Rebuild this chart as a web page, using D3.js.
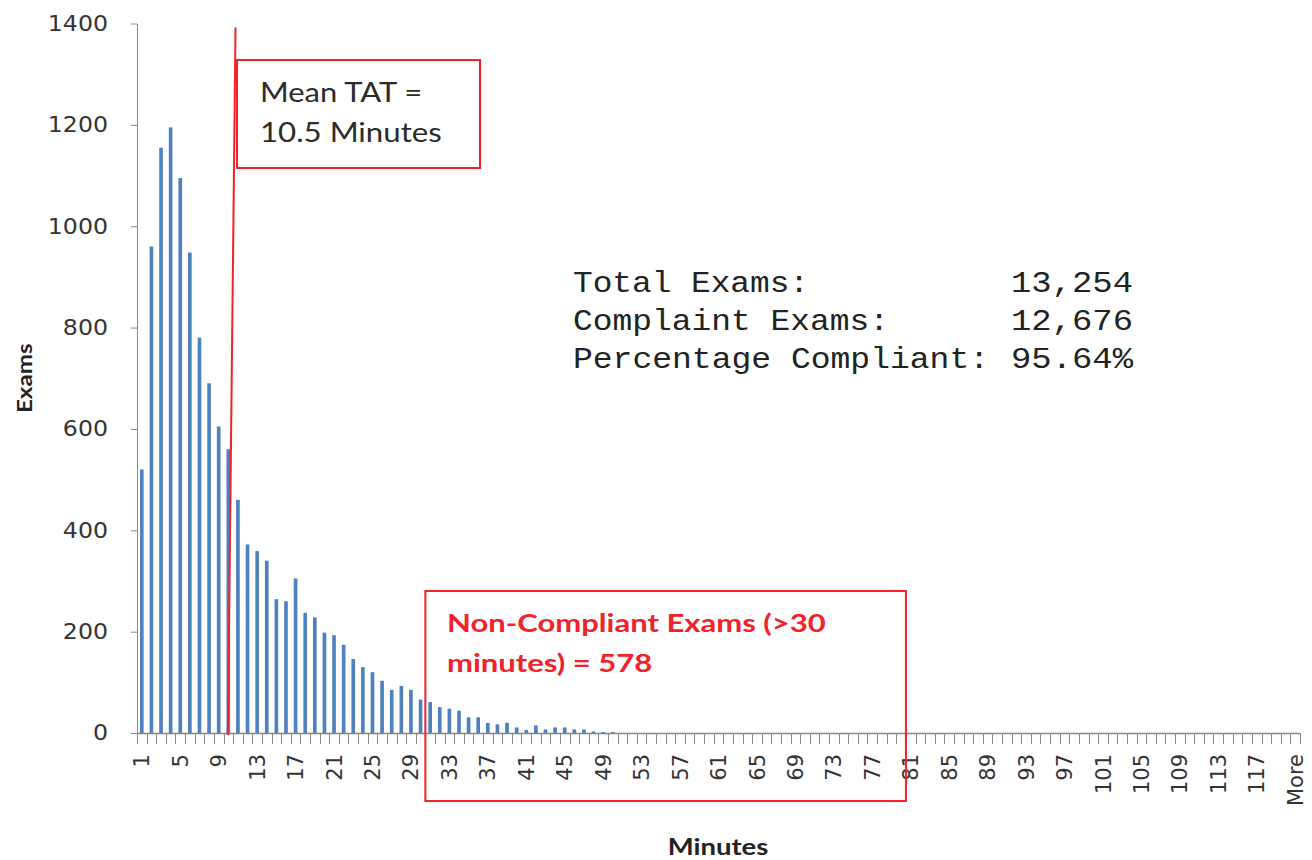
<!DOCTYPE html>
<html>
<head>
<meta charset="utf-8">
<script src="https://cdn.jsdelivr.net/npm/d3@7"></script>
<style>
  html, body { margin: 0; padding: 0; background: #ffffff; }
  svg { display: block; }
</style>
</head>
<body>
<svg id="chart" width="1312" height="860"></svg>
<script>
// Turnaround-time histogram: exam counts per minute bin.
const minuteBins = d3.range(1, 121).map(String).concat(["More"]);
const examCounts = [
  520, 960, 1155, 1195, 1095, 948, 780, 690, 605, 560,
  460, 372, 359, 340, 264, 260, 305, 237, 228, 198,
  193, 174, 146, 130, 120, 103, 85, 93, 85, 66,
  61, 51, 48, 44, 31, 31, 20, 17, 20, 11,
  6, 15, 7, 11, 11, 7, 7, 3, 2, 2
].concat(d3.range(71).map(() => 0));
const yTickValues = [0, 200, 400, 600, 800, 1000, 1200, 1400];
const xLabelBins = minuteBins.filter((d, i) => i % 4 === 0);

const meanTAT = 10.5;
const complianceLimit = 30;
const nonCompliantCount = 578;
const statLabels = ["Total Exams:", "Complaint Exams:", "Percentage Compliant:"];
const statValues = ["13,254", "12,676", "95.64%"];

const svg = d3.select("#chart");
const plotLeft = 137, plotRight = 1300, plotTop = 23.5, plotBottom = 733;

const x = d3.scaleBand()
  .domain(minuteBins)
  .range([plotLeft, plotRight])
  .paddingInner(0.62)
  .paddingOuter(0.31);

const y = d3.scaleLinear().domain([0, 1400]).range([plotBottom, plotTop]);

const axisGrey = "#868686";
const red = "#f2212a";

// widen a text element's glyphs by a factor
function widen(sel, factor) {
  sel.each(function () {
    const len = this.getComputedTextLength();
    d3.select(this).attr("textLength", len * factor).attr("lengthAdjust", "spacingAndGlyphs");
  });
}

// bars
svg.append("g")
  .selectAll("rect")
  .data(minuteBins.map((b, i) => ({ bin: b, count: examCounts[i] })))
  .join("rect")
  .attr("x", d => x(d.bin))
  .attr("width", x.bandwidth())
  .attr("y", d => y(d.count))
  .attr("height", d => y(0) - y(d.count))
  .attr("fill", "#4f81bd");

// y axis
const yAxis = svg.append("g")
  .attr("transform", `translate(${plotLeft},0)`)
  .call(d3.axisLeft(y).tickValues(yTickValues).tickFormat(d3.format("d"))
    .tickSize(6).tickSizeOuter(0).tickPadding(23));
yAxis.select(".domain").attr("stroke", axisGrey);
yAxis.selectAll(".tick line").attr("stroke", axisGrey);
yAxis.selectAll("text")
  .attr("fill", "#333")
  .style("font-family", "'DejaVu Sans'")
  .style("font-size", "21.5px")
  .call(widen, 1.1);

// x axis: line, tick marks at every bin boundary, rotated labels every 4th bin
const gap = (x.step() - x.bandwidth()) / 2;
const boundaries = minuteBins.map(b => x(b) - gap)
  .concat([x(minuteBins[minuteBins.length - 1]) + x.bandwidth() + gap]);
svg.append("line")
  .attr("x1", boundaries[0]).attr("x2", boundaries[boundaries.length - 1])
  .attr("y1", y(0) + 0.5).attr("y2", y(0) + 0.5)
  .attr("stroke", axisGrey).attr("stroke-width", 1.5);
svg.append("g")
  .selectAll("line")
  .data(boundaries)
  .join("line")
  .attr("x1", d => Math.round(d) + 0.5).attr("x2", d => Math.round(d) + 0.5)
  .attr("y1", y(0)).attr("y2", y(0) + 11)
  .attr("stroke", axisGrey).attr("stroke-width", 1);

const xAxis = svg.append("g")
  .attr("transform", `translate(0,${plotBottom})`)
  .call(d3.axisBottom(x).tickValues(xLabelBins).tickSize(0));
xAxis.select(".domain").remove();
xAxis.selectAll("text")
  .attr("transform", "rotate(-90)")
  .attr("x", -21)
  .attr("y", 0)
  .attr("dy", "0.36em")
  .style("text-anchor", "end")
  .attr("fill", "#333")
  .style("font-family", "'DejaVu Sans'")
  .style("font-size", "21px");

// axis titles
svg.append("text")
  .attr("transform", `translate(32,${(plotTop + plotBottom) / 2}) rotate(-90)`)
  .attr("text-anchor", "middle")
  .style("font-family", "Lato, 'Open Sans', sans-serif")
  .style("font-weight", 700)
  .style("font-size", "21px")
  .attr("fill", "#222")
  .text("Exams")
  .call(widen, 1.15);

svg.append("text")
  .attr("x", 718).attr("y", 855)
  .attr("text-anchor", "middle")
  .style("font-family", "Lato, 'Open Sans', sans-serif")
  .style("font-weight", 700)
  .style("font-size", "22px")
  .attr("fill", "#222")
  .text("Minutes")
  .call(widen, 1.25);

// mean turnaround line (hand-drawn lean)
const meanBin = String(Math.floor(meanTAT));
const meanBase = x(meanBin) + x.bandwidth() / 2 + (meanTAT - Math.floor(meanTAT)) * x.step();
svg.append("line")
  .attr("x1", meanBase - 0.55 * x.step())
  .attr("y1", plotBottom + 2)
  .attr("x2", meanBase + 0.25 * x.step())
  .attr("y2", y(1392))
  .attr("stroke", red).attr("stroke-width", 2);

// mean callout
svg.append("rect")
  .attr("x", 237).attr("y", 60).attr("width", 243).attr("height", 108)
  .attr("fill", "white").attr("stroke", red).attr("stroke-width", 2);
const meanGroup = svg.append("g")
  .style("font-family", "Lato, 'Open Sans', sans-serif")
  .style("font-size", "26px")
  .attr("fill", "#2b2b2b");
meanGroup.append("text").attr("x", 260).attr("y", 102).text("Mean TAT =").call(widen, 1.19);
meanGroup.append("text").attr("x", 260).attr("y", 142).text(`${meanTAT} Minutes`).call(widen, 1.2);

// non-compliant callout, starting at the compliance limit
const ncLeft = x(String(complianceLimit + 1)) - gap;
const ncRight = x("80") + x.bandwidth() + gap;
svg.append("rect")
  .attr("x", ncLeft)
  .attr("y", 591)
  .attr("width", ncRight - ncLeft)
  .attr("height", 210)
  .attr("fill", "none").attr("stroke", red).attr("stroke-width", 2);
const ncGroup = svg.append("g")
  .style("font-family", "Lato, 'Open Sans', sans-serif")
  .style("font-weight", 700)
  .style("font-size", "25px")
  .attr("fill", red);
ncGroup.append("text").attr("x", 447).attr("y", 632)
  .text(`Non-Compliant Exams (>${complianceLimit}`).call(widen, 1.24);
ncGroup.append("text").attr("x", 447).attr("y", 672)
  .text(`minutes) = ${nonCompliantCount}`).call(widen, 1.24);

// summary statistics, monospaced columns
const charW = 20;
const stats = svg.append("g")
  .style("font-family", "'Liberation Mono', 'DejaVu Sans Mono', monospace")
  .style("font-size", "30px")
  .attr("fill", "#222");
statLabels.forEach((label, i) => {
  stats.append("text").attr("x", 573).attr("y", 292 + i * 38)
    .attr("textLength", label.length * charW - 4).attr("lengthAdjust", "spacingAndGlyphs")
    .text(label);
  stats.append("text").attr("x", 1133).attr("y", 292 + i * 38)
    .attr("text-anchor", "end")
    .attr("textLength", statValues[i].length * charW + 2).attr("lengthAdjust", "spacingAndGlyphs")
    .text(statValues[i]);
});
</script>
</body>
</html>
